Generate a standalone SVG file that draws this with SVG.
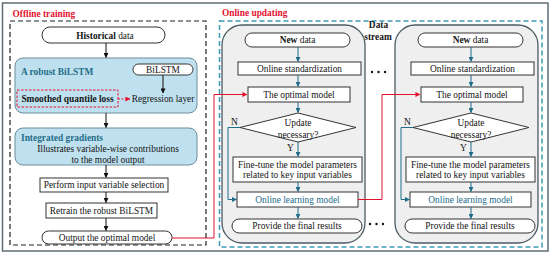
<svg xmlns="http://www.w3.org/2000/svg" width="550" height="256" viewBox="0 0 550 256">
<style>
.t{font-family:"Liberation Serif","Times New Roman",serif;font-size:9.4px;fill:#151515}
.c{text-anchor:middle}
.b{font-weight:bold}
.red{fill:#e5102e}
.teal{fill:#1f6d88}
.bx{fill:#fff;stroke:#333;stroke-width:1}
.pn{fill:#efefef;stroke:#4b5b62;stroke-width:1.3}
.bl{fill:#bfe1ef;stroke:#6d8c9a;stroke-width:1}
.ln{fill:none;stroke-width:1}
.ab{stroke:#111;marker-end:url(#ab)}
.at{stroke:#1f6d88;marker-end:url(#at)}
.ar{stroke:#e5102e;marker-end:url(#ar)}
</style>
<defs>
<marker id="ab" viewBox="0 0 6 6" refX="5.5" refY="3" markerWidth="5" markerHeight="5" orient="auto"><path d="M0,0 L6,3 L0,6 z" fill="#111"/></marker>
<marker id="at" viewBox="0 0 6 6" refX="5.5" refY="3" markerWidth="5" markerHeight="5" orient="auto"><path d="M0,0 L6,3 L0,6 z" fill="#1f6d88"/></marker>
<marker id="ar" viewBox="0 0 6 6" refX="5.5" refY="3" markerWidth="5" markerHeight="5" orient="auto"><path d="M0,0 L6,3 L0,6 z" fill="#e5102e"/></marker>
</defs>
<rect x="0" y="0" width="550" height="256" fill="#fff"/>
<rect x="2.5" y="3" width="545.5" height="248" fill="none" stroke="#5f6e74" stroke-width="1.5"/>

<g id="offline">
<text class="t b red" x="12.5" y="17" font-size="10.2">Offline training</text>
<rect x="10" y="21" width="196" height="224" fill="none" stroke="#222" stroke-width="1.2" stroke-dasharray="5,3"/>
</g>
<g id="online">
<text class="t b red" x="222" y="16" font-size="9.8">Online updating</text>
<rect x="219.5" y="21" width="322.5" height="226" fill="none" stroke="#3a9ab8" stroke-width="1.5" stroke-dasharray="5,3"/>
</g>

<g id="hist">
<rect x="42" y="27" width="123" height="16" rx="8" class="bx"/>
<text class="t c" x="105" y="38.5" font-size="10.5"><tspan class="b">Historical</tspan> data</text>
</g>
<g id="robust">
<rect x="15" y="58" width="182" height="55" rx="8" class="bl"/>
<text class="t b teal" x="21" y="75" font-size="11.6">A robust BiLSTM</text>
</g>
<g id="bilstm">
<rect x="133" y="64" width="60" height="11" rx="5.5" class="bx"/>
<text class="t c" x="163" y="72.8">BiLSTM</text>
</g>
<g id="regression">
<text class="t c" x="163" y="102">Regression layer</text>
</g>
<g id="sql">
<rect x="17" y="90" width="101" height="17" fill="none" stroke="#e5102e" stroke-width="1" stroke-dasharray="2.5,1.5"/>
<text class="t b c" x="67.5" y="102">Smoothed quantile loss</text>
</g>
<g id="ig">
<rect x="15" y="128" width="182" height="37" rx="8" class="bl"/>
<text class="t b teal" x="21" y="141" font-size="11">Integrated gradients</text>
<text class="t c" x="108" y="152">Illustrates variable-wise contributions</text>
<text class="t c" x="108" y="162.5">to the model output</text>
</g>
<g id="select">
<rect x="40" y="178" width="128" height="14" class="bx"/>
<text class="t c" x="104" y="188.4">Perform input variable selection</text>
</g>
<g id="retrain">
<rect x="46" y="203" width="111" height="15" class="bx"/>
<text class="t c" x="101.5" y="213.9">Retrain the robust BiLSTM</text>
</g>
<g id="outmodel">
<rect x="42" y="231" width="130" height="13" rx="6.5" class="bx"/>
<text class="t c" x="107" y="240.6">Output the optimal model</text>
</g>

<g id="datastream">
<text class="t b c" x="378.5" y="28" font-size="10.2">Data</text>
<text class="t b c" x="378" y="40" font-size="10.2">stream</text>
<circle cx="372" cy="72" r="1.2" fill="#111"/><circle cx="378.5" cy="72" r="1.2" fill="#111"/><circle cx="385" cy="72" r="1.2" fill="#111"/>
<circle cx="370" cy="224" r="1.2" fill="#111"/><circle cx="376.5" cy="224" r="1.2" fill="#111"/><circle cx="383" cy="224" r="1.2" fill="#111"/>
</g>

<g id="panel1">
<g id="p1-bg"><rect x="222" y="25" width="143" height="218" rx="20" class="pn"/></g>
<g id="p1-new"><rect x="245" y="33" width="105" height="14" rx="7" class="bx"/>
<text class="t c" x="297.5" y="43.3"><tspan class="b">New</tspan> data</text></g>
<g id="p1-std"><rect x="238" y="62" width="123" height="13" class="bx"/>
<text class="t c" x="299.5" y="71.6">Online standardization</text></g>
<g id="p1-opt"><rect x="248" y="87" width="102" height="15" class="bx"/>
<text class="t c" x="299" y="97.8">The optimal model</text></g>
<g id="p1-upd"><polygon points="298,113 356,127.5 298,142 240,127.5" class="bx"/>
<text class="t c" x="298" y="126">Update</text>
<text class="t c" x="298" y="138">necessary?</text></g>
<g id="p1-fine"><rect x="233" y="157" width="129" height="25" class="bx"/>
<text class="t c" x="297.5" y="167.5">Fine-tune the model parameters</text>
<text class="t c" x="297.5" y="178.2">related to key input variables</text></g>
<g id="p1-ol"><rect x="237" y="192" width="121" height="15" class="bx"/>
<text class="t c teal" x="297.5" y="202.7">Online learning model</text></g>
<g id="p1-final"><rect x="232" y="219" width="130" height="14" rx="7" class="bx"/>
<text class="t c" x="297" y="229.2">Provide the final results</text></g>
</g>

<g id="panel2" transform="translate(173,0)">
<g id="p2-bg"><rect x="222" y="25" width="143" height="218" rx="20" class="pn"/></g>
<g id="p2-new"><rect x="245" y="33" width="105" height="14" rx="7" class="bx"/>
<text class="t c" x="297.5" y="43.3"><tspan class="b">New</tspan> data</text></g>
<g id="p2-std"><rect x="238" y="62" width="123" height="13" class="bx"/>
<text class="t c" x="299.5" y="71.6">Online standardization</text></g>
<g id="p2-opt"><rect x="248" y="87" width="102" height="15" class="bx"/>
<text class="t c" x="299" y="97.8">The optimal model</text></g>
<g id="p2-upd"><polygon points="298,113 356,127.5 298,142 240,127.5" class="bx"/>
<text class="t c" x="298" y="126">Update</text>
<text class="t c" x="298" y="138">necessary?</text></g>
<g id="p2-fine"><rect x="233" y="157" width="129" height="25" class="bx"/>
<text class="t c" x="297.5" y="167.5">Fine-tune the model parameters</text>
<text class="t c" x="297.5" y="178.2">related to key input variables</text></g>
<g id="p2-ol"><rect x="237" y="192" width="121" height="15" class="bx"/>
<text class="t c teal" x="297.5" y="202.7">Online learning model</text></g>
<g id="p2-final"><rect x="232" y="219" width="130" height="14" rx="7" class="bx"/>
<text class="t c" x="297" y="229.2">Provide the final results</text></g>
</g>

<g id="connectors">
<line x1="106" y1="43" x2="106" y2="57.5" class="ln ab"/>
<line x1="163" y1="75" x2="163" y2="93" class="ln ab"/>
<line x1="118" y1="99" x2="130" y2="99" class="ln ar" stroke-dasharray="2,1.5"/>
<line x1="106" y1="113" x2="106" y2="127.5" class="ln ab"/>
<line x1="106" y1="165" x2="106" y2="177.5" class="ln ab"/>
<line x1="106" y1="192" x2="106" y2="202.5" class="ln ab"/>
<line x1="106" y1="218" x2="106" y2="230.5" class="ln ab"/>
<polyline points="172,238 214,238 214,94.5 247,94.5" class="ln ar" stroke-width="1.2"/>
<polyline points="358,199.5 382,199.5 382,94.5 420,94.5" class="ln ar" stroke-width="1.2"/>
<g id="c-p1">
<line x1="298" y1="47" x2="298" y2="61.5" class="ln at"/>
<line x1="298" y1="75" x2="298" y2="86.5" class="ln at"/>
<line x1="298" y1="102" x2="298" y2="112.5" class="ln at"/>
<line x1="298" y1="142" x2="298" y2="156.5" class="ln at"/>
<line x1="298" y1="182" x2="298" y2="191.5" class="ln at"/>
<line x1="298" y1="207" x2="298" y2="218.5" class="ln at"/>
<polyline points="240,127.5 228,127.5 228,199.5 236.5,199.5" class="ln at"/>
<text class="t" x="231" y="125">N</text>
<text class="t" x="287" y="150.5">Y</text>
</g>
<g id="c-p2" transform="translate(173,0)">
<line x1="298" y1="47" x2="298" y2="61.5" class="ln at"/>
<line x1="298" y1="75" x2="298" y2="86.5" class="ln at"/>
<line x1="298" y1="102" x2="298" y2="112.5" class="ln at"/>
<line x1="298" y1="142" x2="298" y2="156.5" class="ln at"/>
<line x1="298" y1="182" x2="298" y2="191.5" class="ln at"/>
<line x1="298" y1="207" x2="298" y2="218.5" class="ln at"/>
<polyline points="240,127.5 228,127.5 228,199.5 236.5,199.5" class="ln at"/>
<text class="t" x="231" y="125">N</text>
<text class="t" x="287" y="150.5">Y</text>
</g>
</g>
</svg>
